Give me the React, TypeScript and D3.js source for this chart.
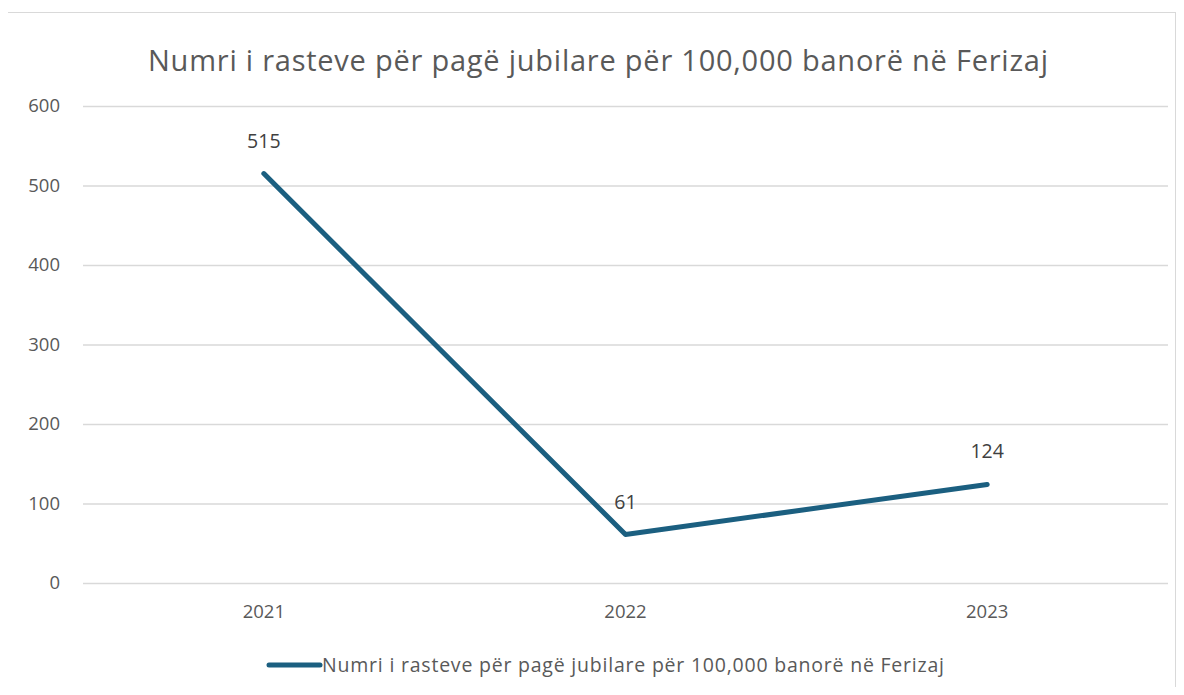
import { useRef, useEffect } from "react";
import * as d3 from "d3";

const years = ["2021", "2022", "2023"];
const values = [515, 61, 124];
const yTicks = [0, 100, 200, 300, 400, 500, 600];
const title = "Numri i rasteve për pagë jubilare për 100,000 banorë në Ferizaj";

const App = () => {
  const ref = useRef<SVGSVGElement>(null);

  useEffect(() => {
    const svg = d3.select(ref.current);
    svg.selectAll("*").remove();

    const font = "'Open Sans', Lato, sans-serif";
    const textColor = "#595959";
    const lineColor = "#1b5f80";

    const left = 83;
    const right = 1168;
    const top = 106;
    const bottom = 583;

    // outer chart frame
    svg
      .append("rect")
      .attr("x", 7.5)
      .attr("y", 12.5)
      .attr("width", 1168)
      .attr("height", 690)
      .attr("fill", "#fff")
      .attr("stroke", "#d9d9d9");

    const x = d3.scaleBand<string>().domain(years).range([left, right]);
    const y = d3.scaleLinear().domain([0, 600]).range([bottom, top]);

    svg
      .append("text")
      .attr("x", 598)
      .attr("y", 71)
      .attr("text-anchor", "middle")
      .attr("font-family", font)
      .attr("font-size", 29)
      .attr("textLength", 900)
      .attr("fill", textColor)
      .text(title);

    const grid = svg.append("g");
    grid
      .selectAll("line")
      .data(yTicks)
      .enter()
      .append("line")
      .attr("x1", left)
      .attr("x2", right)
      .attr("y1", d => y(d) + 0.5)
      .attr("y2", d => y(d) + 0.5)
      .attr("stroke", "#d9d9d9")
      .attr("stroke-width", 1.3);

    grid
      .selectAll("text")
      .data(yTicks)
      .enter()
      .append("text")
      .attr("x", 60)
      .attr("y", d => y(d))
      .attr("dy", "0.35em")
      .attr("text-anchor", "end")
      .attr("font-family", font)
      .attr("font-size", 18.5)
      .attr("fill", textColor)
      .text(d => d);

    svg
      .append("g")
      .selectAll("text")
      .data(years)
      .enter()
      .append("text")
      .attr("x", d => (x(d) as number) + x.bandwidth() / 2)
      .attr("y", 618)
      .attr("text-anchor", "middle")
      .attr("font-family", font)
      .attr("font-size", 18.5)
      .attr("fill", textColor)
      .text(d => d);

    const line = d3
      .line<number>()
      .x((_d, i) => (x(years[i]) as number) + x.bandwidth() / 2)
      .y(d => y(d));

    svg
      .append("path")
      .datum(values)
      .attr("d", line)
      .attr("fill", "none")
      .attr("stroke", lineColor)
      .attr("stroke-width", 5)
      .attr("stroke-linecap", "round")
      .attr("stroke-linejoin", "round");

    svg
      .append("g")
      .selectAll("text")
      .data(values)
      .enter()
      .append("text")
      .attr("x", (_d, i) => (x(years[i]) as number) + x.bandwidth() / 2)
      .attr("y", d => y(d) - 26)
      .attr("text-anchor", "middle")
      .attr("font-family", font)
      .attr("font-size", 19.5)
      .attr("fill", "#404040")
      .text(d => d);

    // legend
    const lg = svg.append("g").attr("transform", "translate(0, 665)");
    lg.append("line")
      .attr("x1", 269)
      .attr("x2", 320)
      .attr("y1", 0)
      .attr("y2", 0)
      .attr("stroke", lineColor)
      .attr("stroke-width", 5)
      .attr("stroke-linecap", "round");
    lg.append("text")
      .attr("x", 322)
      .attr("y", 0)
      .attr("dy", "0.35em")
      .attr("font-family", font)
      .attr("font-size", 19.5)
      .attr("textLength", 622)
      .attr("fill", textColor)
      .text(title);
  }, []);

  return <svg ref={ref} width={1184} height={695} style={{ display: "block", margin: -8 }} />;
};

export default App;
